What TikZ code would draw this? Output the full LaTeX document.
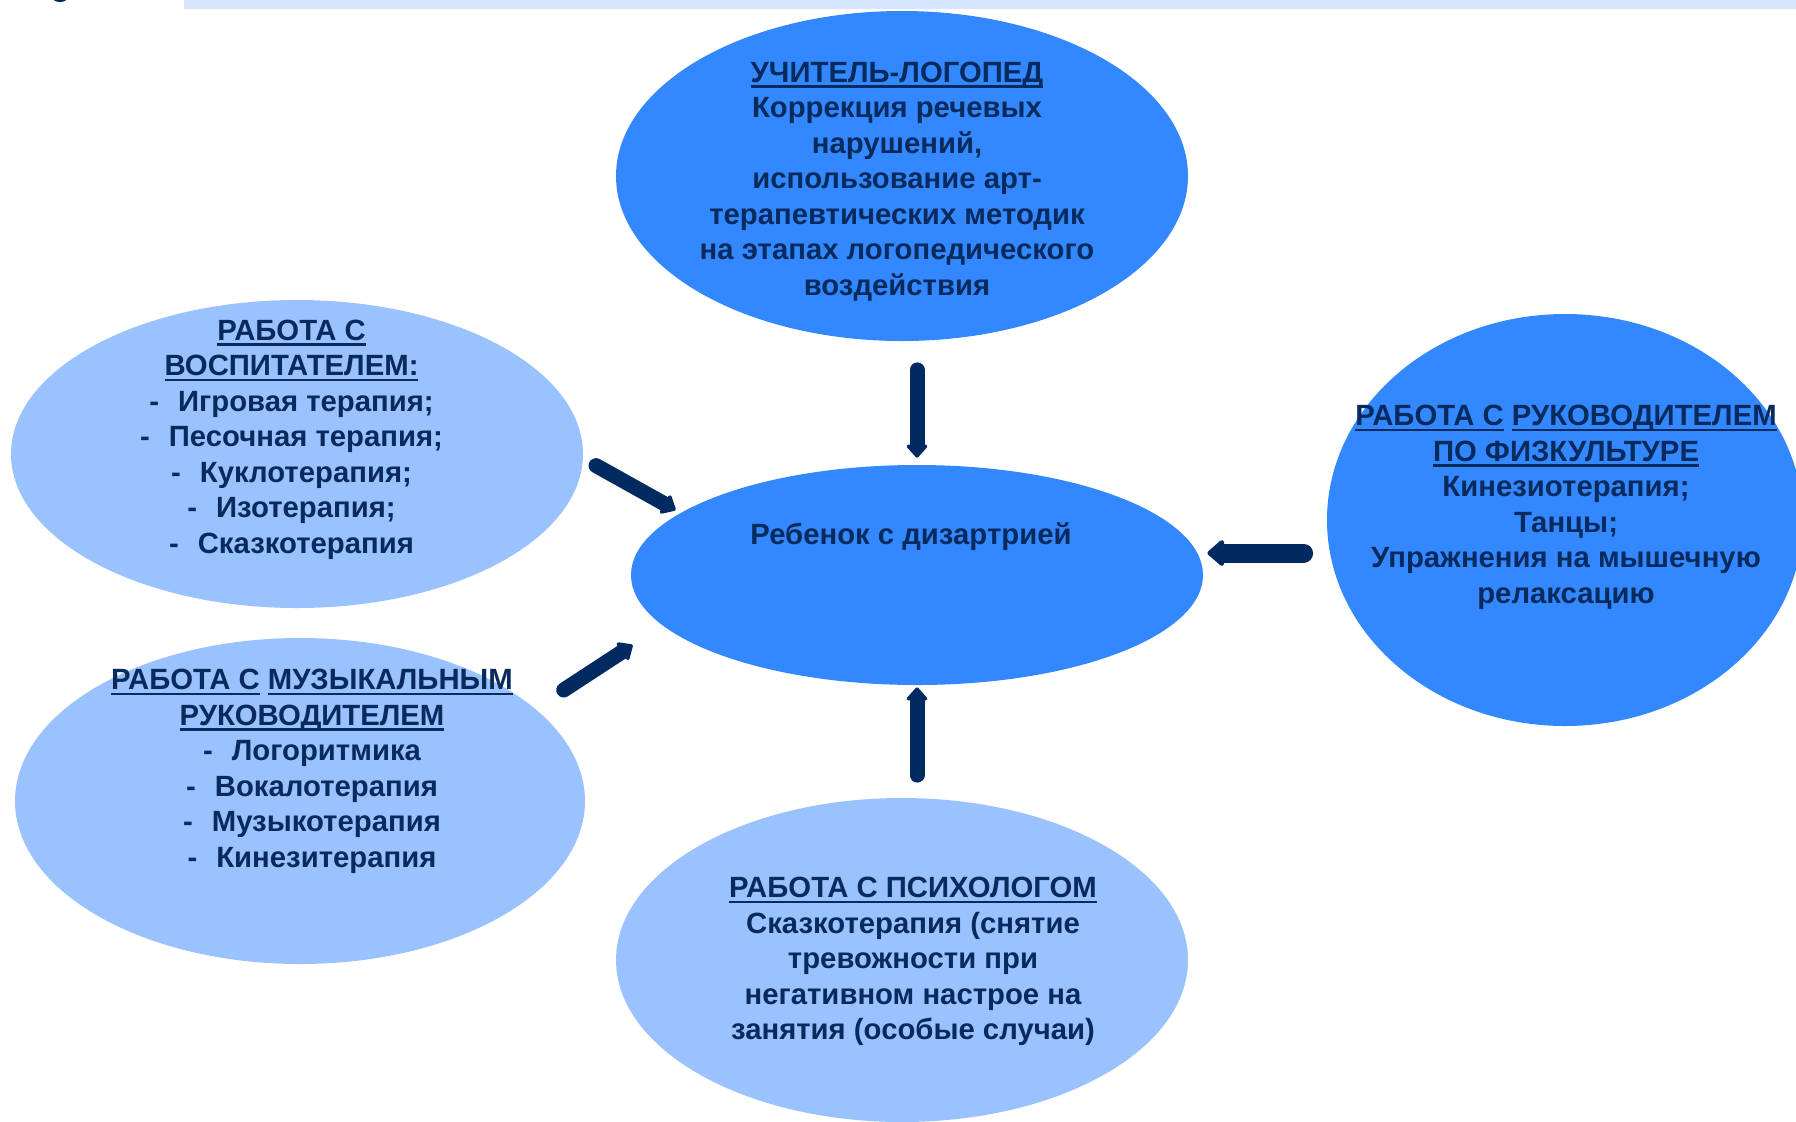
\documentclass[tikz,border=0pt]{standalone}
\usepackage{fontspec}
\setmainfont{Liberation Sans}
\usetikzlibrary{shapes.geometric,arrows.meta}
\definecolor{darkblue}{RGB}{0,42,96}
\definecolor{textblue}{RGB}{8,42,92}
\definecolor{brightblue}{RGB}{51,136,255}
\definecolor{paleblue}{RGB}{153,194,255}
\definecolor{barblue}{RGB}{214,230,255}
\tikzset{
	oval/.style 2 args={ellipse, draw=none, inner sep=0pt, minimum width=#1, minimum height=#2},
	bright/.style={fill=brightblue},
	pale/.style={fill=paleblue},
	txt/.style={text=textblue, align=center, inner sep=0pt, font=\fontsize{14.65pt}{17.75pt}\selectfont\bfseries},
	bigarrow/.style={draw=darkblue, line width=7.5pt, line cap=round, -{Triangle[length=7pt,width=12pt,round]}}
}
\newcommand{\dashitem}[1]{-\hspace{0.65em}#1}
\newcommand{\ulin}[1]{\setbox0\hbox{#1}\rlap{\rule[-2.65pt]{\wd0}{1.15pt}}\box0\relax}

\begin{document}
\begin{tikzpicture}[x=0.5pt,y=-0.5pt]
	\useasboundingbox (0,0) rectangle (1796,1121);
	\clip (0,0) rectangle (1796,1121);
	% header strip
	\fill[barblue] (184,0) rectangle (1796,9);
	\fill[darkblue] (60,-3) ellipse (8 and 5);

	\node[oval={286pt}{165pt}, bright] (logoped) at (902,176) {};
	\node[oval={286pt}{110pt}, bright] (child) at (917,575) {};
	\node[oval={286pt}{154pt}, pale] (vosp) at (297,454) {};
	\node[oval={285pt}{163pt}, pale] (music) at (300,801) {};
	\node[oval={286pt}{162pt}, pale] (psych) at (902,960) {};
	\node[oval={238pt}{206pt}, bright] (fizo) at (1565,520) {};

	\node[txt] (logopedtext) at (897,181.5) {\ulin{УЧИТЕЛЬ-ЛОГОПЕД}\\Коррекция речевых\\нарушений,\\использование арт-\\терапевтических методик\\на этапах логопедического\\воздействия};
	\node[txt] (childtext) at (911,537) {Ребенок с дизартрией};
	\node[txt] (vosptext) at (291.5,439.5) {\ulin{РАБОТА С}\\\ulin{ВОСПИТАТЕЛЕМ:}\\\dashitem{Игровая терапия;}\\\dashitem{Песочная терапия;}\\\dashitem{Куклотерапия;}\\\dashitem{Изотерапия;}\\\dashitem{Сказкотерапия}};
	\node[txt] (musictext) at (312,771.5) {\ulin{РАБОТА С} \ulin{МУЗЫКАЛЬНЫМ}\\\ulin{РУКОВОДИТЕЛЕМ}\\\dashitem{Логоритмика}\\\dashitem{Вокалотерапия}\\\dashitem{Музыкотерапия}\\\dashitem{Кинезитерапия}};
	\node[txt] (psychtext) at (913,961.5) {\ulin{РАБОТА С ПСИХОЛОГОМ}\\Сказкотерапия (снятие\\тревожности при\\негативном настрое на\\занятия (особые случаи)};
	\node[txt] (fizotext) at (1566,507.5) {\ulin{РАБОТА С} \ulin{РУКОВОДИТЕЛЕМ}\\\ulin{ПО ФИЗКУЛЬТУРЕ}\\Кинезиотерапия;\\Танцы;\\Упражнения на мышечную\\релаксацию};

	\draw[bigarrow, shorten <=14.25pt, shorten >=3.5pt] (logoped.south -| child.north) -- (child.north);
	\draw[bigarrow, shorten <=11.25pt, shorten >=1pt] (psych.north -| child.south) -- (child.south);
	\draw[bigarrow, line width=9.5pt, -{Triangle[length=9pt,width=15pt,round]}, shorten <=11.5pt, shorten >=2pt] ([yshift=-16.5pt]fizo.west) -- ([yshift=11pt]child.east);
	\draw[bigarrow] ([shift={(6.3pt,-5.8pt)}]vosp.east) -- ([shift={(22.5pt,32.5pt)}]child.west);
	\draw[bigarrow] ([shift={(-10.85pt,55.5pt)}]music.east) -- ([shift={(1pt,-35pt)}]child.west);
\end{tikzpicture}
\end{document}
